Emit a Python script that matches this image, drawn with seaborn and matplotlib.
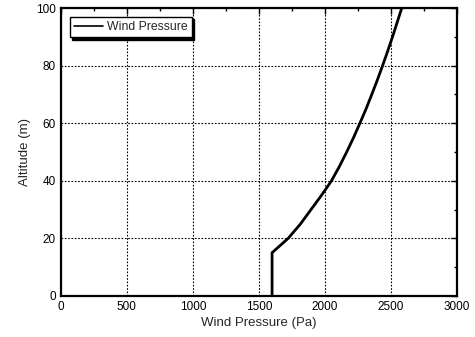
import matplotlib
matplotlib.use("Agg")
import matplotlib.pyplot as plt
import numpy as np
import pandas as pd
import seaborn as sns
from matplotlib.ticker import MultipleLocator

# values
altitude = [0, 15, 15, 20, 25, 30, 35, 40, 45, 50, 55, 60, 65, 70, 75, 80, 85, 90, 95, 100]
pressure = [1600, 1600, 1600, 1722, 1815, 1895, 1975, 2050, 2110, 2165, 2217,
            2265, 2312, 2355, 2397, 2437, 2475, 2512, 2547, 2582]

df = pd.DataFrame({"Wind Pressure (Pa)": pressure, "Altitude (m)": altitude})

sns.set_style("white")
plt.rcParams["font.family"] = ["Liberation Sans", "DejaVu Sans"]

fig, ax = plt.subplots(figsize=(4.75, 3.37), dpi=100)
fig.subplots_adjust(left=0.128, right=0.962, top=0.976, bottom=0.122)

sns.lineplot(
    data=df,
    x="Wind Pressure (Pa)",
    y="Altitude (m)",
    sort=False,
    estimator=None,
    color="black",
    linewidth=2.0,
    label="Wind Pressure",
    ax=ax,
)

ax.set_xlim(0, 3000)
ax.set_ylim(0, 100)
ax.xaxis.set_major_locator(MultipleLocator(500))
ax.xaxis.set_minor_locator(MultipleLocator(250))
ax.yaxis.set_major_locator(MultipleLocator(20))
ax.yaxis.set_minor_locator(MultipleLocator(10))
ax.tick_params(which="both", direction="in", top=True, right=True, labelsize=8.5, colors="black")
ax.tick_params(which="major", length=4, width=1.0)
ax.tick_params(which="minor", length=2.5, width=1.0)
ax.grid(True, which="major", linestyle=(0, (1.5, 1.5)), color="black", linewidth=0.8)
for s in ax.spines.values():
    s.set_color("black")
    s.set_linewidth(1.6)

ax.set_xlabel("Wind Pressure (Pa)", fontsize=9.5, labelpad=3)
ax.set_ylabel("Altitude (m)", fontsize=9.5, labelpad=4)

leg = ax.legend(
    loc="upper left",
    bbox_to_anchor=(0.022, 0.97),
    frameon=True,
    fancybox=False,
    shadow={"color": "black", "alpha": 1.0},
    fontsize=8.8,
    handlelength=2.4,
    handletextpad=0.3,
    borderpad=0.35,
    borderaxespad=0,
)
leg.get_frame().set_edgecolor("black")
leg.get_frame().set_linewidth(1.0)
for line in leg.get_lines():
    line.set_linewidth(1.2)

fig.savefig("out.png", dpi=100)
